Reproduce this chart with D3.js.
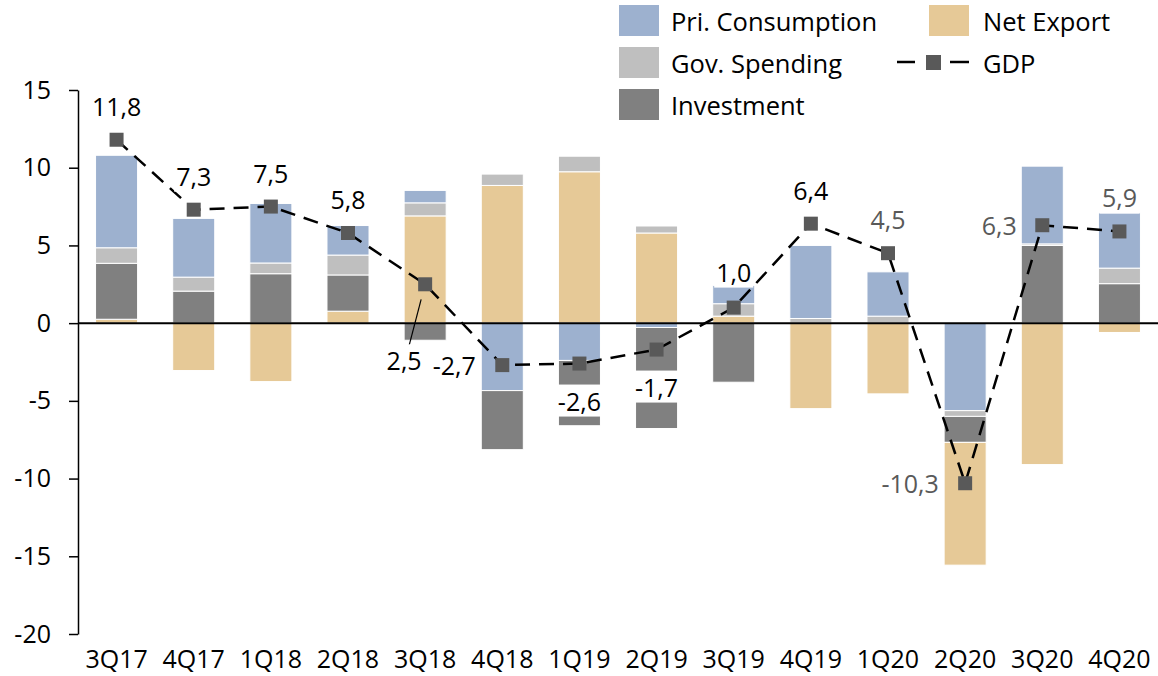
<!DOCTYPE html>
<html><head><meta charset="utf-8">
<script src="https://cdn.jsdelivr.net/npm/d3@7"></script>
<style>
body{margin:0;background:#fff}
svg{display:block}
text{font-family:"Open Sans",sans-serif}
</style>
</head><body>
<svg id="c" width="1158" height="676"></svg>
<script>
// ---- data ----
const categories = ["3Q17","4Q17","1Q18","2Q18","3Q18","4Q18","1Q19","2Q19","3Q19","4Q19","1Q20","2Q20","3Q20","4Q20"];
const priConsumption = [5.95, 3.78, 3.83, 1.90, 0.80, -4.34, -2.40, -0.28, 1.18, 4.70, 2.85, -5.63, 5.00, 3.55];
const govSpending    = [1.00, 0.90, 0.69, 1.28, 0.84, 0.73, 1.00, 0.45, 0.80, 0.30, 0.45, -0.37, 0.10, 1.00];
const investment     = [3.60, 2.06, 3.18, 2.33, -1.10, -3.80, -4.20, -6.50, -3.80, 0.00, 0.00, -1.67, 5.00, 2.54];
const netExport      = [0.25, -3.05, -3.76, 0.77, 6.90, 8.86, 9.74, 5.80, 0.45, -5.50, -4.55, -7.90, -9.10, -0.60];
const gdp            = [11.8, 7.3, 7.5, 5.8, 2.5, -2.7, -2.6, -1.7, 1.0, 6.4, 4.5, -10.3, 6.3, 5.9];
const yTicks = [-20, -15, -10, -5, 0, 5, 10, 15];

// ---- label placement / style config ----
const labelPlacement = ["above","above","above","above","leader","left","below","below","above","above","above","left","left","above"];
const labelGray = [false,false,false,false,false,false,false,false,false,false,true,true,true,true];

const svg = d3.select("#c");
const FONT = 25;

const x = d3.scaleBand().domain(categories).range([78, 1158]).paddingInner(0.455).paddingOuter(0.2275);
const y = d3.scaleLinear().domain([-20, 15]).range([634, 90]);
const bw = x.bandwidth();

const series = [
  {name:"Net Export", values: netExport, color:"#E6C997"},
  {name:"Investment", values: investment, color:"#808080"},
  {name:"Gov. Spending", values: govSpending, color:"#BFBFBF"},
  {name:"Pri. Consumption", values: priConsumption, color:"#9DB1CF"}
];
const posOrder = [0,1,2,3];
const negOrder = [3,2,1,0];

const segs = [];
categories.forEach((c, i) => {
  let p = 0, n = 0;
  posOrder.forEach(s => { const v = series[s].values[i]; if (v > 0) { segs.push({c, s, y0:p, y1:p+v}); p += v; } });
  negOrder.forEach(s => { const v = series[s].values[i]; if (v < 0) { segs.push({c, s, y0:n+v, y1:n}); n += v; } });
});

svg.append("g").selectAll("rect").data(segs).join("rect")
  .attr("x", d => x(d.c)).attr("width", bw)
  .attr("y", d => y(d.y1)).attr("height", d => y(d.y0) - y(d.y1))
  .attr("fill", d => series[d.s].color)
  .attr("stroke", "#fff").attr("stroke-width", 1);

// y axis
const ya = svg.append("g").attr("transform", "translate(78,0)")
  .call(d3.axisLeft(y).tickValues(yTicks).tickSize(9).tickSizeOuter(0).tickPadding(18)
    .tickFormat(d => String(d)));
ya.select(".domain").attr("stroke", "#000").attr("stroke-width", 1.5);
ya.selectAll(".tick line").attr("stroke", "#000").attr("stroke-width", 1.5);
ya.selectAll(".tick text").attr("font-size", 25).attr("fill", "#000").attr("font-family", '"Open Sans",sans-serif');

// zero line
svg.append("line").attr("x1", 78).attr("x2", 1158).attr("y1", y(0)).attr("y2", y(0))
  .attr("stroke", "#000").attr("stroke-width", 2);

// x labels
svg.append("g").selectAll("text").data(categories).join("text")
  .attr("x", d => x(d) + bw/2).attr("y", 668)
  .attr("text-anchor", "middle").attr("font-size", FONT).attr("fill", "#000")
  .text(d => d);

// GDP line
const cx = i => x(categories[i]) + bw/2;
svg.append("path").datum(gdp)
  .attr("d", d3.line().x((d,i) => cx(i)).y(d => y(d)))
  .attr("fill", "none").attr("stroke", "#000").attr("stroke-width", 2.5)
  .attr("stroke-dasharray", "15,9");
svg.append("g").selectAll("rect").data(gdp).join("rect")
  .attr("x", (d,i) => cx(i) - 7).attr("y", d => y(d) - 7)
  .attr("width", 14).attr("height", 14).attr("fill", "#595959");

// labels
const fmt = v => (v < 0 ? "-" : "") + d3.format(".1f")(Math.abs(v)).replace(".", ",");
const offsets = {above:[0,-34], below:[0,37], left:[-48,0], leader:[-21,76]};
gdp.forEach((v, i) => {
  const pl = labelPlacement[i];
  let [dx, dy] = offsets[pl];
  if (pl === "left" && i === 11) dx = -55;
  if (pl === "left" && i === 12) dx = -43;
  if (i === 8) dy = -36;
  const px = cx(i), py = y(v);
  if (pl === "leader") {
    svg.append("line").attr("x1", px - 4).attr("y1", py + 15).attr("x2", px - 16).attr("y2", py + 61)
      .attr("stroke", "#000").attr("stroke-width", 1.2);
  }
  const g = svg.append("g");
  const r = g.append("rect").attr("fill", "#fff");
  const t = g.append("text").attr("x", px + dx).attr("y", py + dy)
    .attr("text-anchor", "middle").attr("dominant-baseline", "central")
    .attr("font-size", FONT).attr("fill", labelGray[i] ? "#595959" : "#000").text(fmt(v));
  const b = t.node().getBBox();
  r.attr("x", b.x - 2).attr("y", b.y + 1).attr("width", b.width + 4).attr("height", b.height - 2);
});

// legend
const LEGFONT = 25.5;
const leg = svg.append("g");
const legItems = [
  {name:"Pri. Consumption", color:"#9DB1CF", x:619, tx:671, y:5},
  {name:"Gov. Spending", color:"#BFBFBF", x:619, tx:671, y:47},
  {name:"Investment", color:"#808080", x:619, tx:671, y:89},
  {name:"Net Export", color:"#E6C997", x:929, tx:983, y:5}
];
legItems.forEach(d => {
  leg.append("rect").attr("x", d.x).attr("y", d.y).attr("width", 40).attr("height", 31).attr("fill", d.color);
  leg.append("text").attr("x", d.tx).attr("y", d.y + 16).attr("dominant-baseline", "central")
    .attr("font-size", LEGFONT).attr("fill", "#000").text(d.name);
});
leg.append("line").attr("x1", 897).attr("x2", 915).attr("y1", 62).attr("y2", 62).attr("stroke", "#000").attr("stroke-width", 2.5);
leg.append("line").attr("x1", 950).attr("x2", 969).attr("y1", 62).attr("y2", 62).attr("stroke", "#000").attr("stroke-width", 2.5);
leg.append("rect").attr("x", 926).attr("y", 55).attr("width", 15).attr("height", 15).attr("fill", "#595959");
leg.append("text").attr("x", 983).attr("y", 63).attr("dominant-baseline", "central")
  .attr("font-size", LEGFONT).attr("fill", "#000").text("GDP");
</script>
</body></html>
